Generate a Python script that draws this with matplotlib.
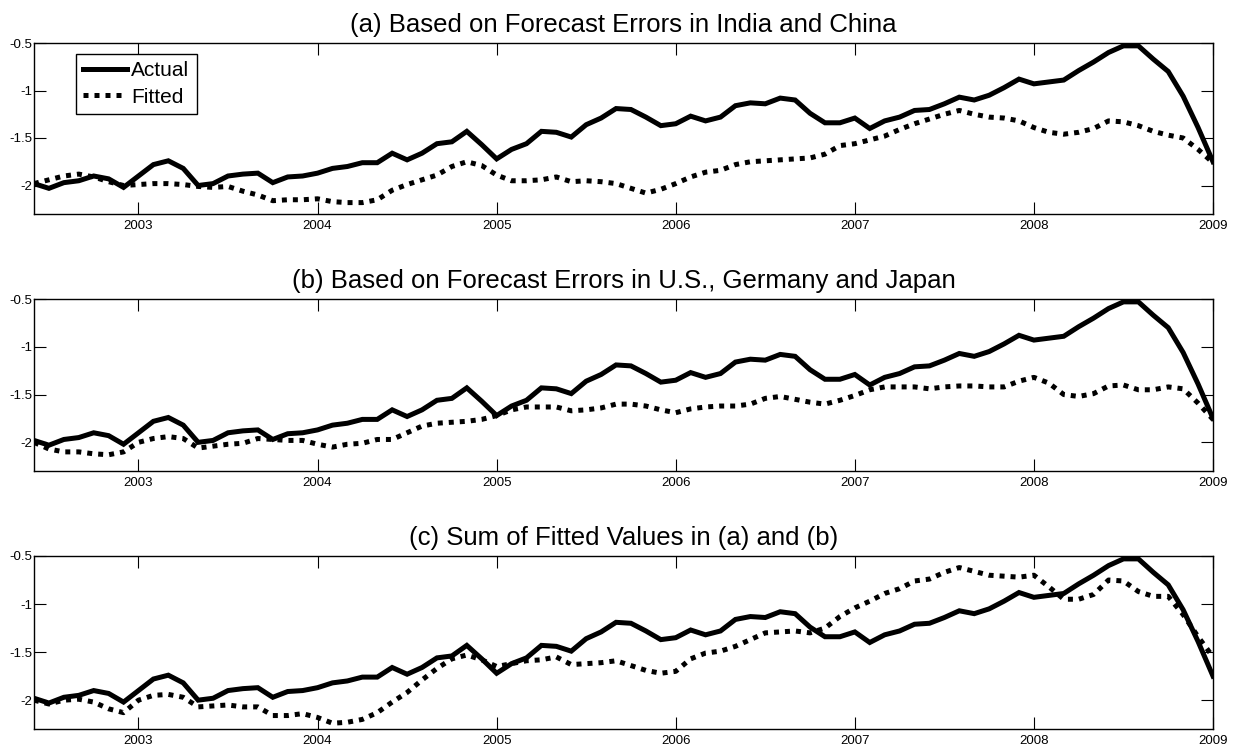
import numpy as np
import matplotlib
matplotlib.use("Agg")
import matplotlib.pyplot as plt

plt.rcParams['font.family'] = ['Liberation Sans', 'DejaVu Sans']

# monthly observations, June 2002 .. January 2009
start_year = 2002 + 5 / 12.0

actual = [
    -1.98, -2.03, -1.97, -1.95, -1.90, -1.93, -2.02, -1.90, -1.78, -1.74,
    -1.82, -2.00, -1.98, -1.90, -1.88, -1.87, -1.97, -1.91, -1.90, -1.87,
    -1.82, -1.80, -1.76, -1.76, -1.66, -1.73, -1.66, -1.56, -1.54, -1.43,
    -1.57, -1.72, -1.62, -1.56, -1.43, -1.44, -1.49, -1.36, -1.29, -1.19,
    -1.20, -1.28, -1.37, -1.35, -1.27, -1.32, -1.28, -1.16, -1.13, -1.14,
    -1.08, -1.10, -1.24, -1.34, -1.34, -1.29, -1.40, -1.32, -1.28, -1.21,
    -1.20, -1.14, -1.07, -1.10, -1.05, -0.97, -0.88, -0.93, -0.91, -0.89,
    -0.79, -0.70, -0.60, -0.53, -0.53, -0.67, -0.80, -1.06, -1.39, -1.75,
]

fitted_a = [
    -1.98, -1.94, -1.90, -1.88, -1.91, -1.96, -2.00, -1.99, -1.98, -1.98,
    -1.99, -2.01, -2.02, -2.01, -2.06, -2.10, -2.16, -2.15, -2.15, -2.14,
    -2.17, -2.18, -2.18, -2.15, -2.05, -1.99, -1.94, -1.89, -1.80, -1.75,
    -1.79, -1.89, -1.95, -1.95, -1.94, -1.91, -1.96, -1.95, -1.96, -1.98,
    -2.03, -2.08, -2.04, -1.98, -1.91, -1.86, -1.84, -1.78, -1.75, -1.74,
    -1.73, -1.72, -1.71, -1.67, -1.58, -1.56, -1.52, -1.48, -1.41, -1.35,
    -1.30, -1.25, -1.21, -1.25, -1.28, -1.29, -1.32, -1.39, -1.44, -1.46,
    -1.44, -1.40, -1.32, -1.33, -1.37, -1.43, -1.47, -1.50, -1.62, -1.76,
]

fitted_b = [
    -2.00, -2.07, -2.10, -2.10, -2.12, -2.13, -2.10, -2.00, -1.96, -1.94,
    -1.96, -2.06, -2.04, -2.02, -2.01, -1.96, -1.97, -1.98, -1.98, -2.02,
    -2.05, -2.02, -2.01, -1.97, -1.97, -1.90, -1.83, -1.80, -1.79, -1.78,
    -1.76, -1.72, -1.66, -1.63, -1.63, -1.63, -1.67, -1.66, -1.64, -1.60,
    -1.60, -1.62, -1.66, -1.69, -1.65, -1.63, -1.62, -1.62, -1.60, -1.54,
    -1.52, -1.55, -1.58, -1.60, -1.56, -1.51, -1.45, -1.42, -1.42, -1.42,
    -1.44, -1.42, -1.41, -1.41, -1.42, -1.42, -1.36, -1.32, -1.38, -1.50,
    -1.52, -1.49, -1.41, -1.40, -1.45, -1.45, -1.42, -1.44, -1.59, -1.76,
]

fitted_c = [
    -2.00, -2.04, -2.00, -1.99, -2.02, -2.09, -2.13, -2.00, -1.95, -1.94,
    -1.97, -2.07, -2.06, -2.05, -2.07, -2.07, -2.16, -2.16, -2.14, -2.18,
    -2.24, -2.23, -2.20, -2.13, -2.02, -1.92, -1.79, -1.67, -1.57, -1.53,
    -1.58, -1.65, -1.62, -1.59, -1.58, -1.55, -1.63, -1.62, -1.61, -1.59,
    -1.64, -1.69, -1.72, -1.70, -1.57, -1.51, -1.49, -1.44, -1.37, -1.30,
    -1.29, -1.28, -1.30, -1.25, -1.13, -1.04, -0.97, -0.89, -0.84, -0.76,
    -0.74, -0.67, -0.62, -0.66, -0.70, -0.71, -0.72, -0.70, -0.82, -0.95,
    -0.95, -0.90, -0.75, -0.76, -0.87, -0.92, -0.92, -1.11, -1.34, -1.55,
]

titles = [
    "(a) Based on Forecast Errors in India and China",
    "(b) Based on Forecast Errors in U.S., Germany and Japan",
    "(c) Sum of Fitted Values in (a) and (b)",
]
year_ticks = [2003, 2004, 2005, 2006, 2007, 2008, 2009]
y_ticks = [-2, -1.5, -1, -0.5]
y_labels = ["-2", "-1.5", "-1", "-0.5"]

t = start_year + np.arange(len(actual)) / 12.0

fig = plt.figure(figsize=(12.33, 7.49), dpi=100)
W, H = 1233.0, 749.0
# (top, bottom) of each panel in pixels
boxes = [(43, 214), (299, 471), (556, 729)]
left, right = 34, 1213

for k, (fit, ttl) in enumerate(zip([fitted_a, fitted_b, fitted_c], titles)):
    top, bot = boxes[k]
    ax = fig.add_axes([left / W, 1 - bot / H, (right - left) / W, (bot - top) / H])
    ax.plot(t, actual, color='black', lw=3.6, solid_joinstyle='miter',
            label='Actual')
    ax.plot(t, fit, color='black', lw=3.6, linestyle=(0, (1, 1.2)),
            dash_capstyle='butt', label='Fitted')
    ax.set_xlim(start_year, 2009)
    ax.set_ylim(-2.3, -0.5)
    ax.set_xticks(year_ticks)
    ax.set_xticklabels([str(y) for y in year_ticks])
    ax.set_yticks(y_ticks)
    ax.set_yticklabels(y_labels)
    ax.tick_params(direction='in', length=8.5, width=0.8, top=True, right=True,
                   labelsize=9.5)
    ax.tick_params(axis='x', pad=4)
    ax.tick_params(axis='y', pad=1)
    for sp in ax.spines.values():
        sp.set_linewidth(1.0)
    ax.set_title(ttl, fontsize=18.5, pad=8)
    if k == 0:
        leg = ax.legend(loc='upper left', bbox_to_anchor=(0.0356, 0.936),
                        borderaxespad=0, fontsize=15, handlelength=2.1,
                        handletextpad=0.2, borderpad=0.35, labelspacing=0.35,
                        fancybox=False, framealpha=1, edgecolor='black')
        leg.get_frame().set_linewidth(1.0)

fig.savefig("out.png", dpi=100)
